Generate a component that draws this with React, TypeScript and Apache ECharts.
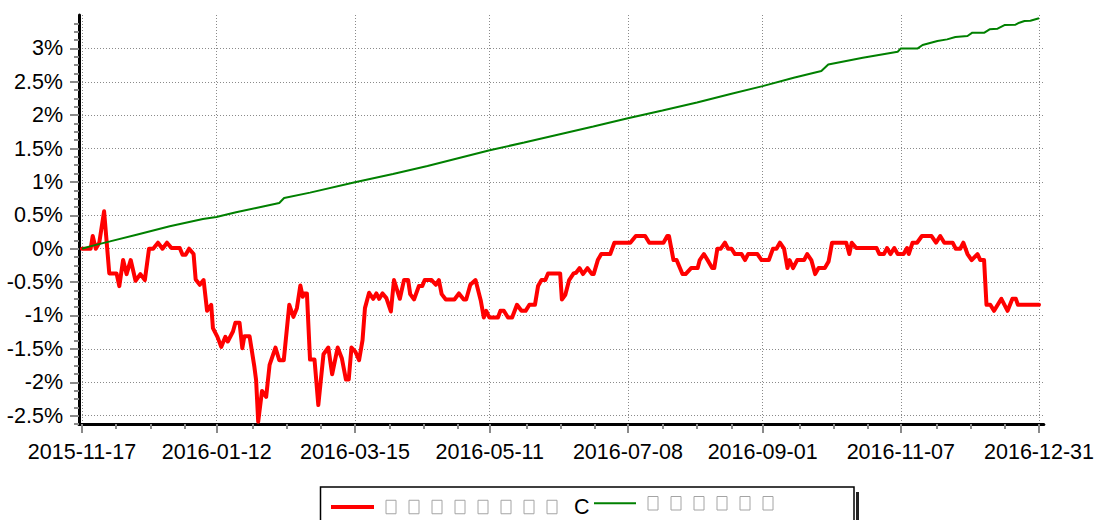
import React, { useEffect, useRef } from 'react';
import * as echarts from 'echarts';

// x = trading-day index from 2015-11-17 (0) to 2016-12-31 (277)
const tickDayIndex = [0, 39, 79, 118, 158, 197, 237, 277];
const tickDates = ['2015-11-17', '2016-01-12', '2016-03-15', '2016-05-11', '2016-07-08', '2016-09-01', '2016-11-07', '2016-12-31'];
const yTickValues = [-2.5, -2, -1.5, -1, -0.5, 0, 0.5, 1, 1.5, 2, 2.5, 3];

const strategyName = '▯▯▯▯▯▯▯▯C';
const benchmarkName = '▯▯▯▯▯▯';

// [day index, cumulative return %]
const strategy: [number, number][] = [
  [0, 0], [2.5, 0], [3.1, 0.19], [4.0, 0], [5.0, 0.09], [6.4, 0.56], [7.9, -0.37], [10.0, -0.37], [10.8, -0.56],
  [11.9, -0.17], [12.9, -0.38], [14.1, -0.17], [15.5, -0.48], [16.9, -0.38], [18.2, -0.47], [19.4, 0], [20.6, 0],
  [22.0, 0.09], [23.3, 0], [24.6, 0.09], [25.9, 0.01], [28.3, 0.01], [29.1, -0.09], [30.0, -0.09], [31.0, 0],
  [32.3, -0.08], [32.9, -0.46], [34.1, -0.54], [35.2, -0.47], [36.2, -0.93], [37.4, -0.84], [37.9, -1.19],
  [39.2, -1.32], [40.3, -1.47], [41.5, -1.32], [42.2, -1.39], [43.7, -1.24], [44.4, -1.11], [45.6, -1.11],
  [46.4, -1.49], [47.0, -1.31], [48.5, -1.31], [49.9, -1.77], [50.4, -1.97], [51.0, -2.59], [52.1, -2.13],
  [53.3, -2.22], [54.3, -1.74], [56.0, -1.48], [57.1, -1.67], [58.4, -1.67], [60.0, -0.84], [61.2, -1.02],
  [62.2, -0.89], [63.2, -0.55], [63.9, -0.72], [64.3, -0.67], [65.1, -0.67], [66.0, -1.66], [67.3, -1.66],
  [68.4, -2.34], [69.9, -1.58], [71.3, -1.48], [72.4, -1.88], [74.0, -1.48], [75.2, -1.64], [76.4, -1.96],
  [77.2, -1.96], [78.0, -1.48], [79.1, -1.54], [80.2, -1.67], [81.2, -1.37], [81.9, -0.89], [83.1, -0.66],
  [84.3, -0.75], [85.2, -0.67], [86.0, -0.75], [87.0, -0.67], [88.1, -0.74], [89.4, -0.94], [90.3, -0.47],
  [92.0, -0.75], [93.2, -0.47], [94.4, -0.47], [95.0, -0.68], [96.1, -0.76], [97.5, -0.56], [98.5, -0.56],
  [99.2, -0.47], [101.2, -0.47], [102.4, -0.54], [103.3, -0.47], [104.1, -0.68], [105.3, -0.76], [107.8, -0.76],
  [109.1, -0.67], [110.5, -0.76], [111.2, -0.76], [112.4, -0.54], [113.9, -0.47], [115.4, -0.77], [116.3, -1.03],
  [117.0, -0.93], [117.9, -1.03], [120.4, -1.03], [121.1, -0.93], [122.1, -0.93], [123.3, -1.03], [124.5, -1.03],
  [125.9, -0.84], [127.2, -0.93], [128.4, -0.93], [129.5, -0.84], [131.1, -0.84], [132.0, -0.56], [133.0, -0.47],
  [134.1, -0.47], [134.9, -0.37], [138.4, -0.37], [138.9, -0.76], [139.9, -0.69], [141.0, -0.47], [142.3, -0.37],
  [143.0, -0.36], [144.0, -0.29], [145.0, -0.38], [146.3, -0.29], [147.6, -0.38], [148.1, -0.38], [149.3, -0.17],
  [150.3, -0.08], [152.9, -0.08], [154.1, 0.09], [158.7, 0.09], [160.3, 0.19], [163.0, 0.19], [164.2, 0.09],
  [168.3, 0.09], [169.4, 0.19], [169.9, 0.19], [171.2, -0.17], [172.1, -0.17], [173.8, -0.38], [174.7, -0.38],
  [176.3, -0.29], [178.2, -0.29], [178.8, -0.17], [180.0, -0.08], [181.3, -0.19], [182.4, -0.29], [183.0, -0.29],
  [183.9, 0], [184.9, 0], [186.1, 0.09], [187.0, 0], [188.0, 0], [189.0, -0.08], [190.9, -0.08], [191.9, -0.17],
  [192.8, -0.08], [195.5, -0.08], [196.7, -0.17], [198.8, -0.17], [200.0, 0], [201.0, 0], [202.0, 0.09],
  [203.2, 0], [204.2, -0.29], [204.8, -0.17], [205.8, -0.29], [207.0, -0.17], [209.0, -0.17], [209.9, -0.08],
  [211.1, -0.17], [212.2, -0.38], [213.2, -0.29], [215.0, -0.29], [216.1, -0.19], [217.1, 0.09], [221.2, 0.09],
  [222.1, -0.08], [222.8, 0.09], [224.1, 0.01], [230.0, 0.01], [230.8, -0.08], [232.1, -0.08], [233.0, 0.01],
  [234.0, -0.08], [235.1, 0.01], [236.1, -0.08], [237.8, -0.08], [238.8, 0.01], [239.3, -0.08], [240.4, 0.09],
  [241.7, 0.09], [243.1, 0.19], [245.9, 0.19], [247.2, 0.09], [248.4, 0.19], [249.6, 0.09], [252.0, 0.09],
  [252.9, 0], [254.2, 0], [255.1, 0.09], [256.3, -0.08], [257.5, -0.17], [259.2, -0.08], [260.0, -0.17],
  [261.1, -0.17], [261.8, -0.84], [262.9, -0.84], [264.0, -0.93], [266.1, -0.75], [267.9, -0.93], [269.3, -0.75],
  [270.3, -0.75], [270.9, -0.84], [277, -0.84],
];

const benchmark: [number, number][] = [
  [0, 0], [2.3, 0.035], [8.1, 0.11], [15.8, 0.21], [25.4, 0.335], [35, 0.445], [38.9, 0.475], [44.6, 0.545],
  [50.4, 0.61], [57.1, 0.685], [58.5, 0.76], [66, 0.84], [79, 0.995], [90, 1.12], [100, 1.24], [110, 1.37],
  [118, 1.475], [128, 1.59], [138, 1.71], [148, 1.83], [158, 1.955], [168, 2.07], [178, 2.19], [188, 2.32],
  [197, 2.435], [206, 2.56], [214, 2.66], [216, 2.76], [226, 2.86], [236.1, 2.95], [237, 3.0], [241.9, 3.0],
  [243.3, 3.05], [247.6, 3.11], [250.4, 3.135], [252.8, 3.17], [256.3, 3.185], [257.7, 3.235], [261.2, 3.235],
  [262.7, 3.285], [265.0, 3.295], [267.0, 3.35], [270.2, 3.355], [271.3, 3.385], [272.8, 3.41], [274.5, 3.415],
  [277, 3.45],
];

const FONT = '"Liberation Sans", Arial, sans-serif';
const TICK_COLOR = '#8a8a8a';
const LABEL_SIZE = 21.5;

const minorY: number[] = [];
for (let k = -21; k <= 28; k++) if (k % 4 !== 0) minorY.push(k * 0.125);
const minorX: number[] = [];
for (let k = 0; k <= 28; k++) if (k % 4 !== 0) minorX.push((k * 277) / 28);

// missing-glyph boxes are drawn as outlined rich-text tokens
const richName = (name: string) => {
  const parts: string[] = ['{l| }'];
  name.split('').forEach((ch, i) => {
    if (ch === '▯') parts.push('{b|▯}', i + 1 < name.length && name[i + 1] !== '▯' ? '{e| }' : '{g| }');
    else parts.push('{c|' + ch + '}');
  });
  return parts.join('');
};

const legendRich = {
  l: { width: 7, fontSize: 12 },
  g: { width: 13, fontSize: 12 },
  e: { width: 17, fontSize: 12 },
  b: { width: 10, height: 13.5, borderColor: '#a4a4a4', borderWidth: 1, color: 'rgba(0,0,0,0)', fontSize: 12, fontFamily: '"DejaVu Sans", sans-serif' },
  c: { color: '#000', fontSize: LABEL_SIZE, fontFamily: FONT },
};

export default function App() {
  const ref = useRef<HTMLDivElement>(null);
  useEffect(() => {
    if (!ref.current) return;
    const chart = echarts.init(ref.current, undefined, { renderer: 'svg' });
    const xMin = -0.866;
    const xMax = 278.39;
    const yMin = -2.625;
    const yMax = 3.5;
    const dotted = { color: TICK_COLOR, width: 1, type: [1, 2] as number[] };
    chart.setOption({
      animation: false,
      backgroundColor: '#ffffff',
      grid: { left: 79, top: 15, width: 967.5, height: 409 },
      xAxis: [
        {
          type: 'value', min: xMin, max: xMax, position: 'bottom',
          axisLine: { show: true, onZero: false, lineStyle: { color: '#000', width: 3 } },
          axisTick: { show: true, length: 9, customValues: tickDayIndex, lineStyle: { color: TICK_COLOR, width: 2 } },
          axisLabel: {
            customValues: tickDayIndex,
            formatter: (v: number) => tickDates[tickDayIndex.indexOf(Math.round(v))] ?? '',
            color: '#000', fontSize: LABEL_SIZE, fontFamily: FONT, margin: 17,
          },
          splitLine: { show: true, lineStyle: dotted },
        },
        {
          type: 'value', min: xMin, max: xMax, position: 'bottom',
          axisLine: { show: false, onZero: false },
          axisTick: { show: true, length: 5, customValues: minorX, lineStyle: { color: TICK_COLOR, width: 2 } },
          axisLabel: { show: false },
          splitLine: { show: false },
        },
      ],
      yAxis: [
        {
          type: 'value', min: yMin, max: yMax, position: 'left',
          axisLine: { show: true, onZero: false, lineStyle: { color: '#000', width: 3 } },
          axisTick: { show: true, length: 9, customValues: yTickValues, lineStyle: { color: TICK_COLOR, width: 2 } },
          axisLabel: {
            customValues: yTickValues,
            formatter: (v: number) => `${Math.round(v * 10) / 10}%`,
            color: '#000', fontSize: LABEL_SIZE, fontFamily: FONT, margin: 16,
          },
          splitLine: { show: true, lineStyle: dotted },
        },
        {
          type: 'value', min: yMin, max: yMax, position: 'left',
          axisLine: { show: false, onZero: false },
          axisTick: { show: true, length: 5, customValues: minorY, lineStyle: { color: TICK_COLOR, width: 2 } },
          axisLabel: { show: false },
          splitLine: { show: false },
        },
      ],
      legend: [
        {
          data: [strategyName], left: 331, top: 496, padding: 0, icon: 'rect', itemWidth: 43, itemHeight: 4,
          formatter: richName, textStyle: { rich: legendRich }, z: 10,
        },
        {
          data: [benchmarkName], left: 594, top: 496, padding: 0, icon: 'rect', itemWidth: 42, itemHeight: 2,
          formatter: richName, textStyle: { rich: legendRich }, z: 10,
        },
      ],
      graphic: [
        { type: 'rect', z: 1, silent: true, shape: { x: 856, y: 492, width: 3, height: 40 }, style: { fill: '#222' } },
        { type: 'rect', z: 2, silent: true, shape: { x: 320.5, y: 487, width: 533.5, height: 45 }, style: { fill: '#fff', stroke: '#000', lineWidth: 1.5 } },
      ],
      series: [
        {
          name: strategyName, type: 'line', xAxisIndex: 0, yAxisIndex: 0, data: strategy,
          symbol: 'none', showSymbol: false, color: '#ff0000',
          lineStyle: { color: '#ff0000', width: 4, join: 'round', cap: 'round' },
        },
        {
          name: benchmarkName, type: 'line', xAxisIndex: 0, yAxisIndex: 0, data: benchmark,
          symbol: 'none', showSymbol: false, color: '#008000',
          lineStyle: { color: '#008000', width: 2 },
        },
      ],
    });
    return () => chart.dispose();
  }, []);
  return <div ref={ref} style={{ position: 'absolute', left: 0, top: 0, width: 1097, height: 520 }} />;
}
